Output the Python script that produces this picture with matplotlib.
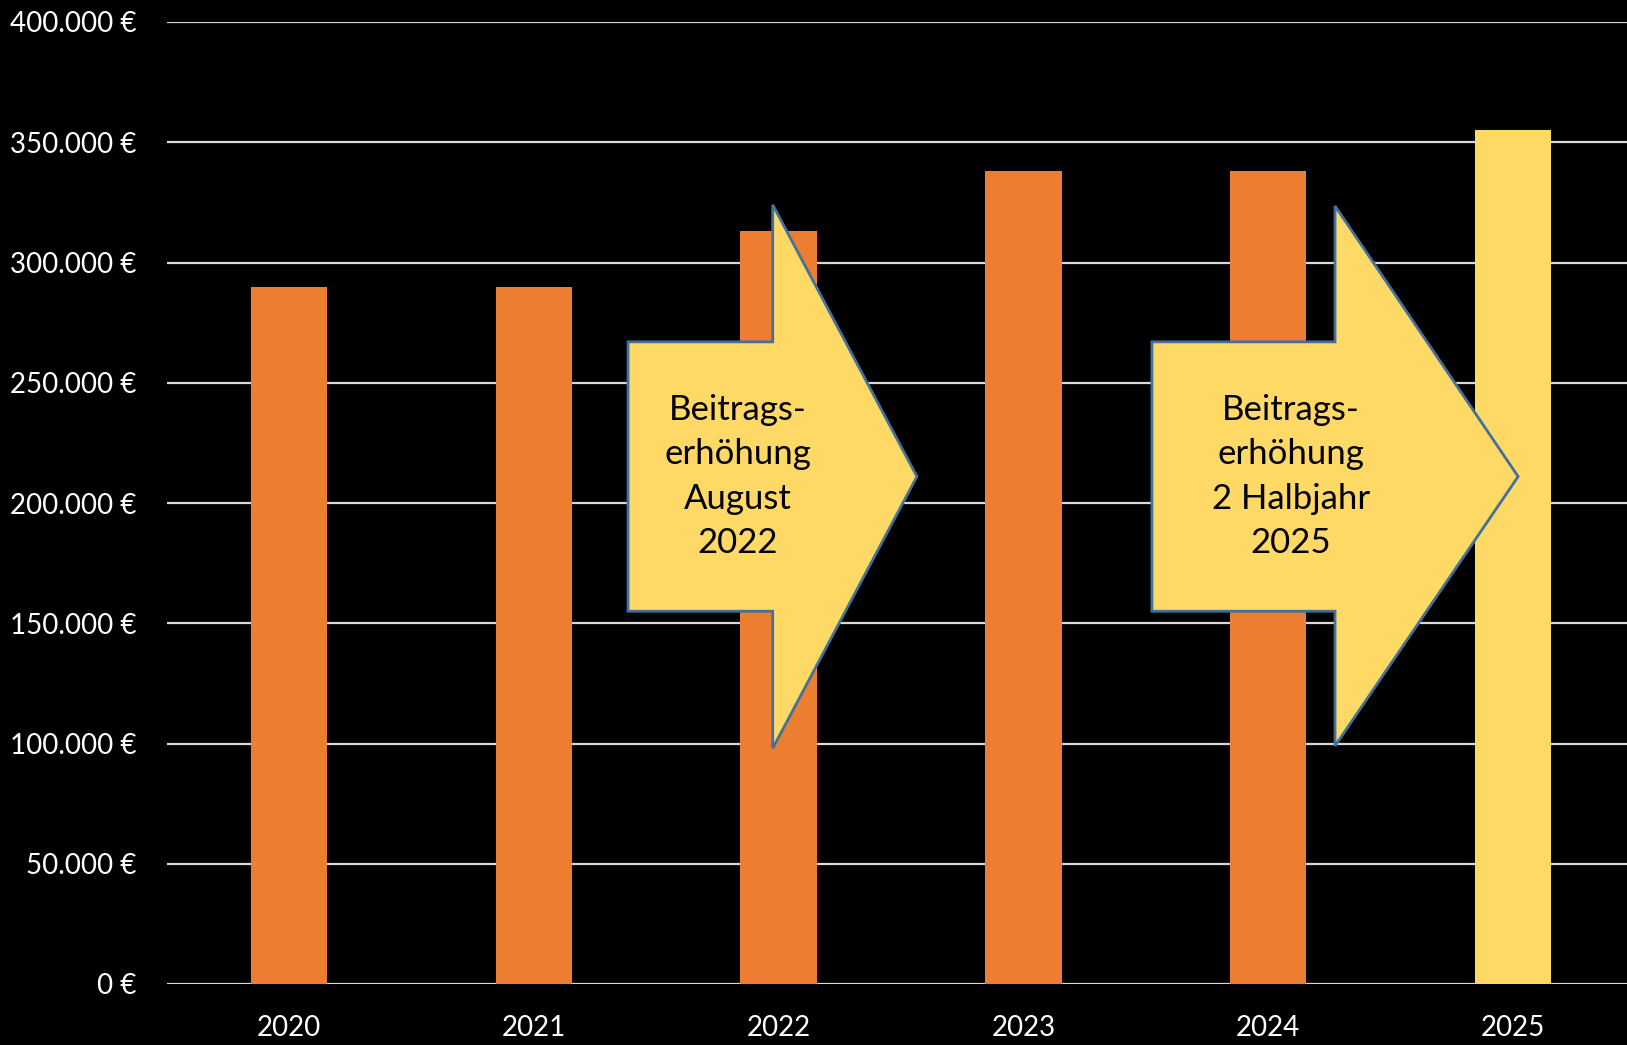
import matplotlib
matplotlib.use("Agg")
import matplotlib.pyplot as plt
from matplotlib.patches import Polygon

# ---- data ----
years = ["2020", "2021", "2022", "2023", "2024", "2025"]
values = [290000, 290000, 313000, 338000, 338000, 355000]
bar_colors = ["#ED7D31", "#ED7D31", "#ED7D31", "#ED7D31", "#ED7D31", "#FFD966"]
y_ticks = [0, 50000, 100000, 150000, 200000, 250000, 300000, 350000, 400000]

# annotation arrows (x in category units, y in euro)
arrow1_text = "Beitrags-\nerhöhung\nAugust\n2022"
arrow1_x = [1.385, 1.976, 2.565]          # tail, head base, tip
arrow1_y = [155000, 267000, 98000, 324000, 211000]  # shaft bottom, shaft top, head bottom, head top, tip
arrow2_text = "Beitrags-\nerhöhung\n2 Halbjahr\n2025"
arrow2_x = [3.525, 4.273, 5.021]
arrow2_y = [155000, 267000, 99000, 323500, 211000]

FONT = ["Lato", "DejaVu Sans"]
plt.rcParams["font.family"] = FONT

fig = plt.figure(figsize=(16.27, 10.45), dpi=100, facecolor="black")
ax = fig.add_axes([166.6 / 1627, 61 / 1045, 1468.8 / 1627, 962 / 1045])
ax.set_facecolor("black")

x = list(range(len(years)))
ax.bar(x, values, width=0.312, color=bar_colors, zorder=3)

ax.set_xlim(-0.5, len(years) - 0.5)
ax.set_ylim(0, 400000)
ax.set_yticks(y_ticks)
ax.set_yticklabels([f"{v:,.0f} €".replace(",", ".") for v in y_ticks])
ax.set_xticks(x)
ax.set_xticklabels(years)
ax.tick_params(axis="both", length=0, colors="white", labelsize=20)
ax.tick_params(axis="y", pad=22)
ax.tick_params(axis="x", pad=22)
for s in ax.spines.values():
    s.set_visible(False)
ax.yaxis.grid(True, color="#D9D9D9", linewidth=1.6, zorder=1)
ax.set_axisbelow(True)


def draw_arrow(xs, ys, text):
    tail, hb, tip = xs
    sb, st, hbot, htop, tipy = ys
    pts = [(tail, sb), (tail, st), (hb, st), (hb, htop), (tip, tipy),
           (hb, hbot), (hb, sb)]
    poly = Polygon(pts, closed=True, facecolor="#FFD966", edgecolor="#41719C",
                   linewidth=2, zorder=5, clip_on=False)
    ax.add_patch(poly)
    cx = tail + (tip - tail) * 0.38
    ax.text(cx, tipy, text, ha="center", va="center", fontsize=25,
            color="black", linespacing=1.48, zorder=6)


draw_arrow(arrow1_x, arrow1_y, arrow1_text)
draw_arrow(arrow2_x, arrow2_y, arrow2_text)

fig.savefig("out.png", dpi=100, facecolor="black")
